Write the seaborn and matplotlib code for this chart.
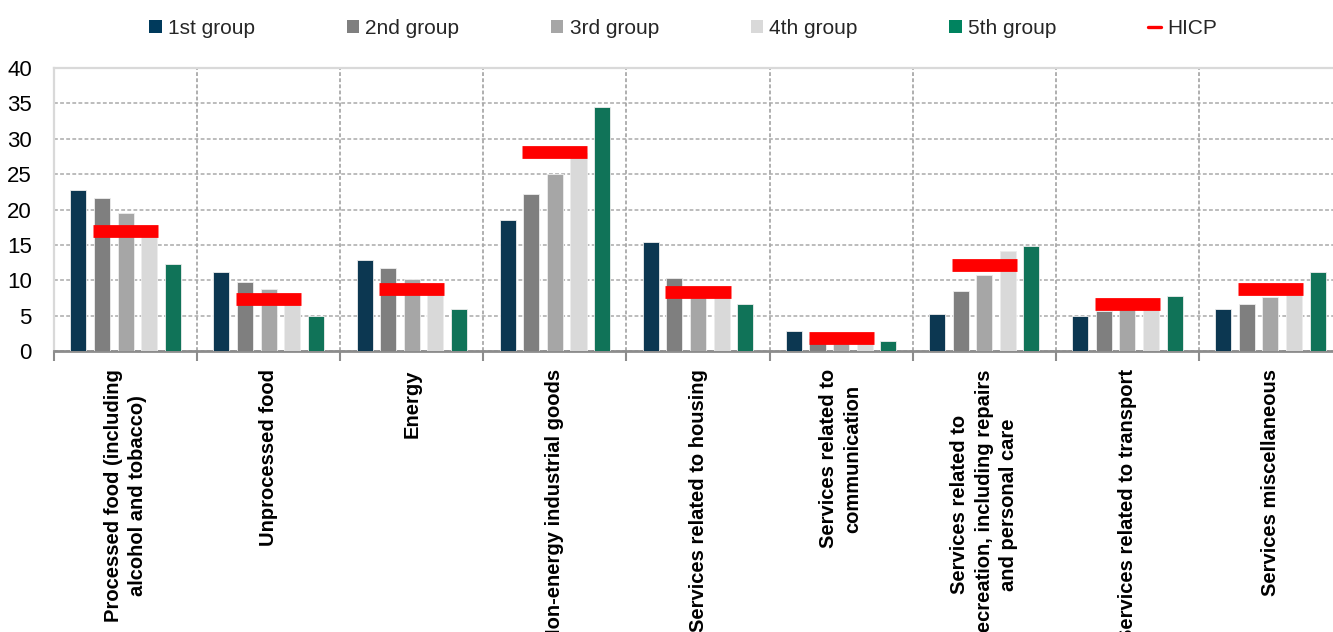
import numpy as np
import pandas as pd
import matplotlib
matplotlib.use("Agg")
import matplotlib.pyplot as plt
import seaborn as sns
from matplotlib.patches import Patch
from matplotlib.lines import Line2D
from matplotlib.ticker import FixedLocator

categories = [
    "Processed food (including\nalcohol and tobacco)",
    "Unprocessed food",
    "Energy",
    "Non-energy industrial goods",
    "Services related to housing",
    "Services related to\ncommunication",
    "Services related to\nrecreation, including repairs\nand personal care",
    "Services related to transport",
    "Services miscellaneous",
]
groups = ["1st group", "2nd group", "3rd group", "4th group", "5th group"]
g1 = [22.7, 11.1, 12.8, 18.5, 15.4, 2.8, 5.3, 4.9, 6.0]
g2 = [21.6, 9.8, 11.7, 22.2, 10.3, 1.7, 8.5, 5.7, 6.7]
g3 = [19.5, 8.7, 10.2, 25.0, 8.3, 1.8, 10.8, 6.3, 7.7]
g4 = [17.5, 7.5, 9.0, 28.0, 8.6, 1.9, 14.1, 6.6, 8.0]
g5 = [12.3, 5.0, 5.9, 34.5, 6.6, 1.4, 14.8, 7.8, 11.2]
hicp = [16.9, 7.3, 8.7, 28.1, 8.4, 1.9, 12.1, 6.7, 8.7]
yticks = [0, 5, 10, 15, 20, 25, 30, 35, 40]

colors = ["#003A5C", "#7F7F7F", "#A6A6A6", "#D9D9D9", "#00835F"]
hicp_color = "#FF0000"

sns.set_theme(style="white")
plt.rcParams["font.family"] = ["Liberation Sans", "DejaVu Sans"]

rows = []
for gname, vals in zip(groups, [g1, g2, g3, g4, g5]):
    for c, v in zip(categories, vals):
        rows.append({"category": c, "group": gname, "value": v})
df = pd.DataFrame(rows)

W, H = 1333, 632
fig = plt.figure(figsize=(W / 100, H / 100), dpi=100)
ax = fig.add_axes([54 / W, (H - 351) / H, 1288 / W, 283 / H])

sns.barplot(data=df, x="category", y="value", hue="group", order=categories,
            hue_order=groups, palette=colors, width=0.825, gap=0.32,
            legend=False, ax=ax, zorder=3, edgecolor="#EDEDED", linewidth=0.6,
            errorbar=None)

xpos = np.arange(len(categories))
ax.hlines(hicp, xpos - 0.2275, xpos + 0.2275, colors=hicp_color,
          linewidth=9.2, zorder=5, capstyle="butt")

ax.set_xlim(-0.5, len(categories) - 0.5)
ax.set_ylim(0, 40)
ax.set_yticks(yticks)
ax.set_yticklabels([str(t) for t in yticks], fontsize=16, color="#000000")
ax.tick_params(axis="y", length=0, pad=16)

ax.set_xticks(xpos)
ax.set_xticklabels(categories, rotation=90, ha="center", va="top",
                   multialignment="center", fontsize=14.5, fontweight="bold",
                   color="#000000", linespacing=1.35)
ax.xaxis.set_minor_locator(FixedLocator(np.arange(-0.5, len(categories), 1.0)))
ax.tick_params(axis="x", which="major", length=0, pad=13)
ax.tick_params(axis="x", which="minor", length=7, width=1.5, color="#8C8C8C",
               direction="out", bottom=True)
ax.set_xlabel("")
ax.set_ylabel("")

ax.grid(False)
ax.yaxis.grid(True, which="major", linestyle=(0, (2.5, 1.5)), color="#A9A9A9",
              linewidth=1.1, zorder=0)
ax.xaxis.grid(True, which="minor", linestyle=(0, (2.5, 1.5)), color="#9A9A9A",
              linewidth=1.1, zorder=0)
ax.set_axisbelow(True)

for side in ["left", "top"]:
    ax.spines[side].set_visible(True)
    ax.spines[side].set_color("#D9D9D9")
    ax.spines[side].set_linewidth(1.6)
ax.spines["bottom"].set_color("#8C8C8C")
ax.spines["bottom"].set_linewidth(2.0)
ax.spines["right"].set_visible(False)

handles = [Patch(facecolor=c, edgecolor="none", label=g) for c, g in zip(colors, groups)]
handles.append(Line2D([0], [0], color=hicp_color, linewidth=2.4, label="HICP"))
fig.legend(handles=handles, loc="center", bbox_to_anchor=(683 / W, 1 - 28 / H),
           ncol=6, frameon=False, fontsize=15, handlelength=0.6,
           handleheight=0.6, handletextpad=0.3, columnspacing=4.4,
           borderaxespad=0)

fig.savefig("out.png", dpi=100)
